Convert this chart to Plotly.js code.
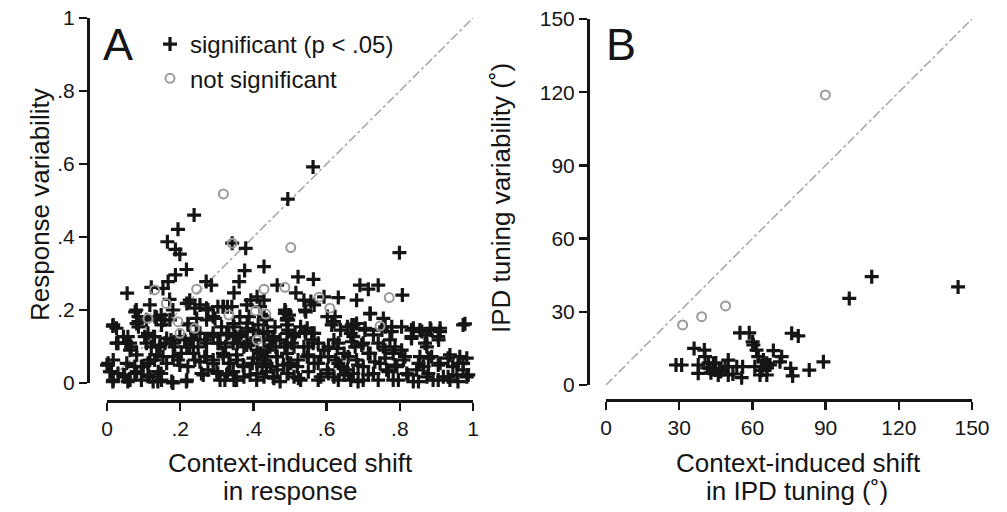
<!DOCTYPE html>
<html>
<head>
<meta charset="utf-8">
<script src="https://cdn.plot.ly/plotly-3.0.1.min.js"></script>
<style>html,body{margin:0;padding:0;background:#fff;}#chart{width:1007px;height:512px;}</style>
</head>
<body>
<div id="chart"></div>
<script>
// Panel A: [context-induced shift in response, response variability]
const aSignificant = [
[.238,.460],[.194,.421],[.165,.387],[.187,.366],[.199,.353],[.217,.311],[.187,.296],[.167,.278],[.121,.262],[.153,.259],
[.055,.246],[.271,.278],[.285,.268],[.171,.229],[.226,.227],[.240,.205],[.180,.200],[.080,.200],[.086,.182],[.086,.168],
[.086,.154],[.135,.180],[.148,.186],[.158,.173],[.016,.156],[.026,.150],[.221,.162],[.276,.200],[.290,.182],[.303,.209],
[.317,.209],[.244,.136],[.057,.127],[.053,.109],[.066,.099],[.030,.109],[.103,.127],[.112,.136],[.130,.127],[.121,.099],
[.144,.099],[.158,.109],[.175,.118],[.185,.099],[.203,.081],[.194,.063],[.153,.072],[.130,.063],[.112,.054],[.094,.045],
[.076,.045],[.076,.026],[.003,.054],[.012,.031],[-.006,.026],[.030,.026],[.016,.004],[.048,.017],[.057,.004],[.094,.008],
[.112,.022],[.126,.004],[.148,.026],[.139,.004],[.180,.000],[.217,.004],[.221,.045],[.240,.063],[.267,.072],[.249,.099],
[.267,.118],[.290,.136],[.303,.109],[.317,.081],[.290,.063],[.276,.036],[.258,.026],[.303,.026],[.322,.008],[.212,.118],
[.230,.122],[.226,.099],[.494,.504],[.563,.592],
[.342,.383],[.379,.369],[.376,.308],[.429,.319],[.361,.278],[.347,.247],[.465,.268],[.522,.291],[.564,.284],[.516,.247],
[.593,.236],[.632,.234],[.538,.227],[.557,.223],[.566,.214],[.543,.195],[.393,.227],[.410,.236],[.429,.227],[.429,.182],
[.388,.182],[.383,.164],[.329,.209],[.488,.195],[.497,.186],[.492,.177],[.492,.159],[.492,.136],[.492,.109],[.529,.154],
[.547,.150],[.543,.136],[.602,.182],[.620,.168],[.638,.145],[.657,.154],[.666,.136],[.347,.154],[.333,.136],[.352,.127],
[.366,.136],[.383,.141],[.402,.145],[.438,.141],[.456,.127],[.429,.118],[.324,.099],[.356,.109],[.374,.099],[.393,.109],
[.410,.090],[.420,.081],[.438,.090],[.434,.072],[.333,.054],[.356,.063],[.374,.045],[.397,.054],[.410,.054],[.429,.063],
[.424,.045],[.447,.045],[.329,.026],[.347,.008],[.374,.017],[.410,.026],[.429,.017],[.456,.013],[.465,.036],[.465,.072],
[.461,.099],[.452,.118],[.492,.081],[.502,.054],[.492,.026],[.511,.017],[.529,.008],[.520,.045],[.511,.099],[.538,.099],
[.547,.072],[.563,.109],[.566,.054],[.584,.072],[.593,.090],[.602,.036],[.584,.017],[.620,.118],[.629,.095],[.648,.081],
[.625,.063],[.638,.045],[.657,.036],[.620,.017],[.648,.022],[.666,.008],[.566,.136],[.563,.118],[.511,.127],
[.799,.357],[.691,.268],[.714,.257],[.741,.268],[.682,.227],[.807,.241],[.719,.189],[.755,.177],[.673,.159],[.705,.150],
[.728,.132],[.751,.145],[.778,.154],[.805,.154],[.837,.150],[.855,.145],[.883,.150],[.910,.150],[.973,.159],[.832,.127],
[.874,.132],[.906,.118],[.874,.099],[.673,.127],[.700,.109],[.678,.099],[.719,.081],[.755,.099],[.773,.118],[.782,.081],
[.810,.063],[.792,.045],[.764,.036],[.746,.054],[.682,.063],[.700,.045],[.728,.026],[.700,.008],[.673,.026],[.782,.008],
[.819,.026],[.846,.036],[.865,.045],[.887,.072],[.910,.054],[.937,.077],[.964,.072],[.973,.054],[.945,.045],[.919,.017],
[.937,.008],[.956,.022],[.983,.017],[1.001,.004],[.973,.036],[.874,.017],[.891,.008],[.837,.004],[.855,.072],
[.077,.195],[.117,.214],[.218,.218],[.254,.214],[.272,.205],[.318,.209],[.341,.209],[.382,.214],[.418,.209],[.486,.200],
[.017,.159],[.081,.163],[.108,.173],[.131,.182],[.149,.159],[.172,.173],[.222,.159],[.245,.177],[.272,.173],[.295,.177],
[.313,.154],[.345,.163],[.363,.182],[.382,.150],[.413,.159],[.436,.173],[.459,.154],[.491,.173],[.026,.109],[.045,.127],
[.063,.109],[.063,.090],[.108,.109],[.127,.127],[.145,.104],[.163,.122],[.181,.109],[.199,.127],[.218,.099],[.236,.118],
[.254,.136],[.272,.109],[.290,.127],[.309,.109],[.327,.132],[.345,.109],[.363,.127],[.382,.104],[.400,.118],[.427,.136],
[.445,.099],[.473,.118],[.486,.099],[.000,.049],[.017,.063],[.054,.054],[.081,.077],[.099,.045],[.117,.063],[.136,.077],
[.163,.054],[.181,.072],[.199,.049],[.236,.081],[.254,.058],[.272,.072],[.290,.054],[.318,.072],[.336,.054],[.354,.077],
[.372,.049],[.400,.068],[.418,.081],[.436,.054],[.464,.072],[.482,.049],[-.014,.022],[.008,.031],[.017,.008],[.045,.022],
[.063,.008],[.081,.031],[.117,.017],[.140,.031],[.149,.008],[.177,.004],[.218,.008],[.263,.022],[.300,.031],[.309,.008],
[.327,.022],[.345,.031],[.354,.008],[.391,.022],[.409,.008],[.436,.031],[.454,.017],[.473,.004],
[.719,.191],[.978,.162],[.486,.191],[.495,.173],[.541,.200],[.623,.182],[.614,.159],[.669,.159],[.682,.163],[.705,.145],
[.760,.154],[.778,.141],[.832,.145],[.860,.141],[.885,.145],[.910,.141],[.832,.122],[.869,.109],[.905,.127],[.495,.145],
[.514,.136],[.541,.141],[.559,.136],[.505,.109],[.550,.099],[.577,.109],[.605,.099],[.632,.109],[.669,.113],[.696,.104],
[.741,.109],[.760,.090],[.787,.099],[.805,.090],[.495,.054],[.522,.063],[.550,.077],[.577,.054],[.605,.072],[.632,.054],
[.659,.072],[.686,.049],[.714,.081],[.732,.058],[.760,.068],[.787,.049],[.814,.072],[.851,.054],[.878,.068],[.905,.049],
[.932,.068],[.959,.054],[.983,.068],[.495,.026],[.523,.013],[.550,.031],[.577,.008],[.605,.026],[.632,.008],[.659,.026],
[.686,.004],[.714,.022],[.741,.008],[.769,.031],[.796,.008],[.823,.022],[.851,.004],[.878,.026],[.905,.008],[.932,.017],
[.959,.004],[.987,.022],[1.005,.004]
];
const aNotSignificant = [
[.318,.518],[.342,.383],[.502,.371],[1.06,.375],[.245,.257],[.162,.218],[.112,.177],[.130,.255],[.194,.168],[.199,.136],
[.240,.150],[.429,.257],[.486,.262],[.579,.235],[.609,.205],[.771,.234],[.746,.156],[.406,.198],[.434,.189],[.333,.186],
[.410,.118]
];
// Panel B: [context-induced shift in IPD tuning (deg), IPD tuning variability (deg)]
const bSignificant = [
[108.9,44.4],[99.7,35.5],[144.3,40.2],[89.1,9.5],[83.3,6.1],[76.1,21.2],[78.8,20.1],[76.5,3.7],[75.7,6.8],[72,11.6],
[71.3,9.5],[68.6,14.1],[65.9,8.9],[67.2,8.2],[63.8,7.5],[65.9,4.1],[63.1,4.1],[61,7.5],[64.5,10.2],[62.4,11.6],
[61.7,14.3],[60.4,16.4],[60.1,17.7],[54.9,21.4],[58.7,21.4],[55.6,3],[53.6,7.5],[50.1,10.2],[50.1,4.1],[48.8,7.5],
[46,4.1],[46.7,6.8],[44,8.9],[44.7,6.1],[42.6,6.8],[37.8,8.2],[37.8,4.8],[40.6,11.6],[40.3,14.3],[36.1,15],
[31,8.2],[28.7,8.2],[43,5],[45,9],[47,5.5],[42,9],[56,7.5],[64,6],[66,7],[41.5,7],[52,4.5]
];
const bNotSignificant = [[31.4,24.6],[39.2,28],[49,32.4],[89.9,118.9]];

const aTicks = [0, .2, .4, .6, .8, 1];
const aTickText = ['0', '.2', '.4', '.6', '.8', '1'];
const bTicks = [0, 30, 60, 90, 120, 150];
const bTickText = ['0', '30', '60', '90', '120', '150'];

const W = 1007, H = 512;
const px = v => v / W;
const py = v => (H - v) / H;
const FONT = 'Liberation Sans, Arial, Helvetica, sans-serif';
const INK = '#151515';

const plusMarker = {symbol: 'cross-thin', size: 10, color: INK, line: {width: 3.2, color: INK}};
const ringMarker = {symbol: 'circle-open', size: 9, color: '#9a9a9a', line: {width: 2}};

const traces = [
  {x: [0, 1], y: [0, 1], xaxis: 'x', yaxis: 'y', mode: 'lines', showlegend: false, hoverinfo: 'skip',
   line: {color: '#a0a0a0', width: 1.4, dash: 'dashdot'}},
  {x: [0, 150], y: [0, 150], xaxis: 'x2', yaxis: 'y2', mode: 'lines', showlegend: false, hoverinfo: 'skip',
   line: {color: '#a0a0a0', width: 1.4, dash: 'dashdot'}},
  {x: aSignificant.map(p => p[0]), y: aSignificant.map(p => p[1]), xaxis: 'x', yaxis: 'y', mode: 'markers',
   name: 'significant (p < .05)', marker: plusMarker, cliponaxis: false},
  {x: aNotSignificant.map(p => p[0]), y: aNotSignificant.map(p => p[1]), xaxis: 'x', yaxis: 'y', mode: 'markers',
   name: 'not significant', marker: ringMarker, cliponaxis: false},
  {x: bSignificant.map(p => p[0]), y: bSignificant.map(p => p[1]), xaxis: 'x2', yaxis: 'y2', mode: 'markers',
   showlegend: false, marker: plusMarker, cliponaxis: false},
  {x: bNotSignificant.map(p => p[0]), y: bNotSignificant.map(p => p[1]), xaxis: 'x2', yaxis: 'y2', mode: 'markers',
   showlegend: false, marker: ringMarker, cliponaxis: false}
];

function axisCommon(extra) {
  return Object.assign({
    showgrid: false, zeroline: false, showline: true, linecolor: INK, linewidth: 3,
    ticks: 'outside', ticklen: 8, tickwidth: 2.5, tickcolor: INK,
    tickfont: {family: FONT, size: 21, color: INK}, tickmode: 'array', fixedrange: true
  }, extra);
}

function label(text, x, y, size, angle) {
  return {text: text, x: px(x), y: py(y), xref: 'paper', yref: 'paper', xanchor: 'center', yanchor: 'middle',
          showarrow: false, textangle: angle || 0, font: {size: size, family: FONT, color: INK}};
}

const layout = {
  width: W, height: H,
  margin: {l: 0, r: 0, t: 0, b: 0, pad: 0},
  paper_bgcolor: '#fff', plot_bgcolor: 'rgba(0,0,0,0)',
  font: {family: FONT, color: INK},
  showlegend: true,
  legend: {x: px(150), y: py(22), xanchor: 'left', yanchor: 'top', bgcolor: 'rgba(0,0,0,0)',
           font: {family: FONT, size: 24, color: INK}, tracegroupgap: 0, itemwidth: 30},
  xaxis: axisCommon({domain: [px(107), px(473)], range: [0, 1], anchor: 'free', position: py(401),
                     tickvals: aTicks, ticktext: aTickText}),
  yaxis: axisCommon({domain: [py(383), py(18)], range: [0, 1], anchor: 'free', position: px(88),
                     tickvals: aTicks, ticktext: aTickText}),
  xaxis2: axisCommon({domain: [px(606), px(972)], range: [0, 150], anchor: 'free', position: py(400),
                      tickvals: bTicks, ticktext: bTickText}),
  yaxis2: axisCommon({domain: [py(385), py(19)], range: [0, 150], anchor: 'free', position: px(588),
                      tickvals: bTicks, ticktext: bTickText}),
  annotations: [
    label('A', 118, 44, 45),
    label('B', 621, 44, 45),
    label('Response variability', 40, 205, 26, -90),
    label('IPD tuning variability (˚)', 501, 198, 26, -90),
    label('Context-induced shift', 290, 463, 26),
    label('in response', 290, 491, 26),
    label('Context-induced shift', 798, 463, 26),
    label('in IPD tuning (˚)', 797, 491, 26)
  ]
};

Plotly.newPlot('chart', traces, layout, {displayModeBar: false, staticPlot: true});
</script>
</body>
</html>
